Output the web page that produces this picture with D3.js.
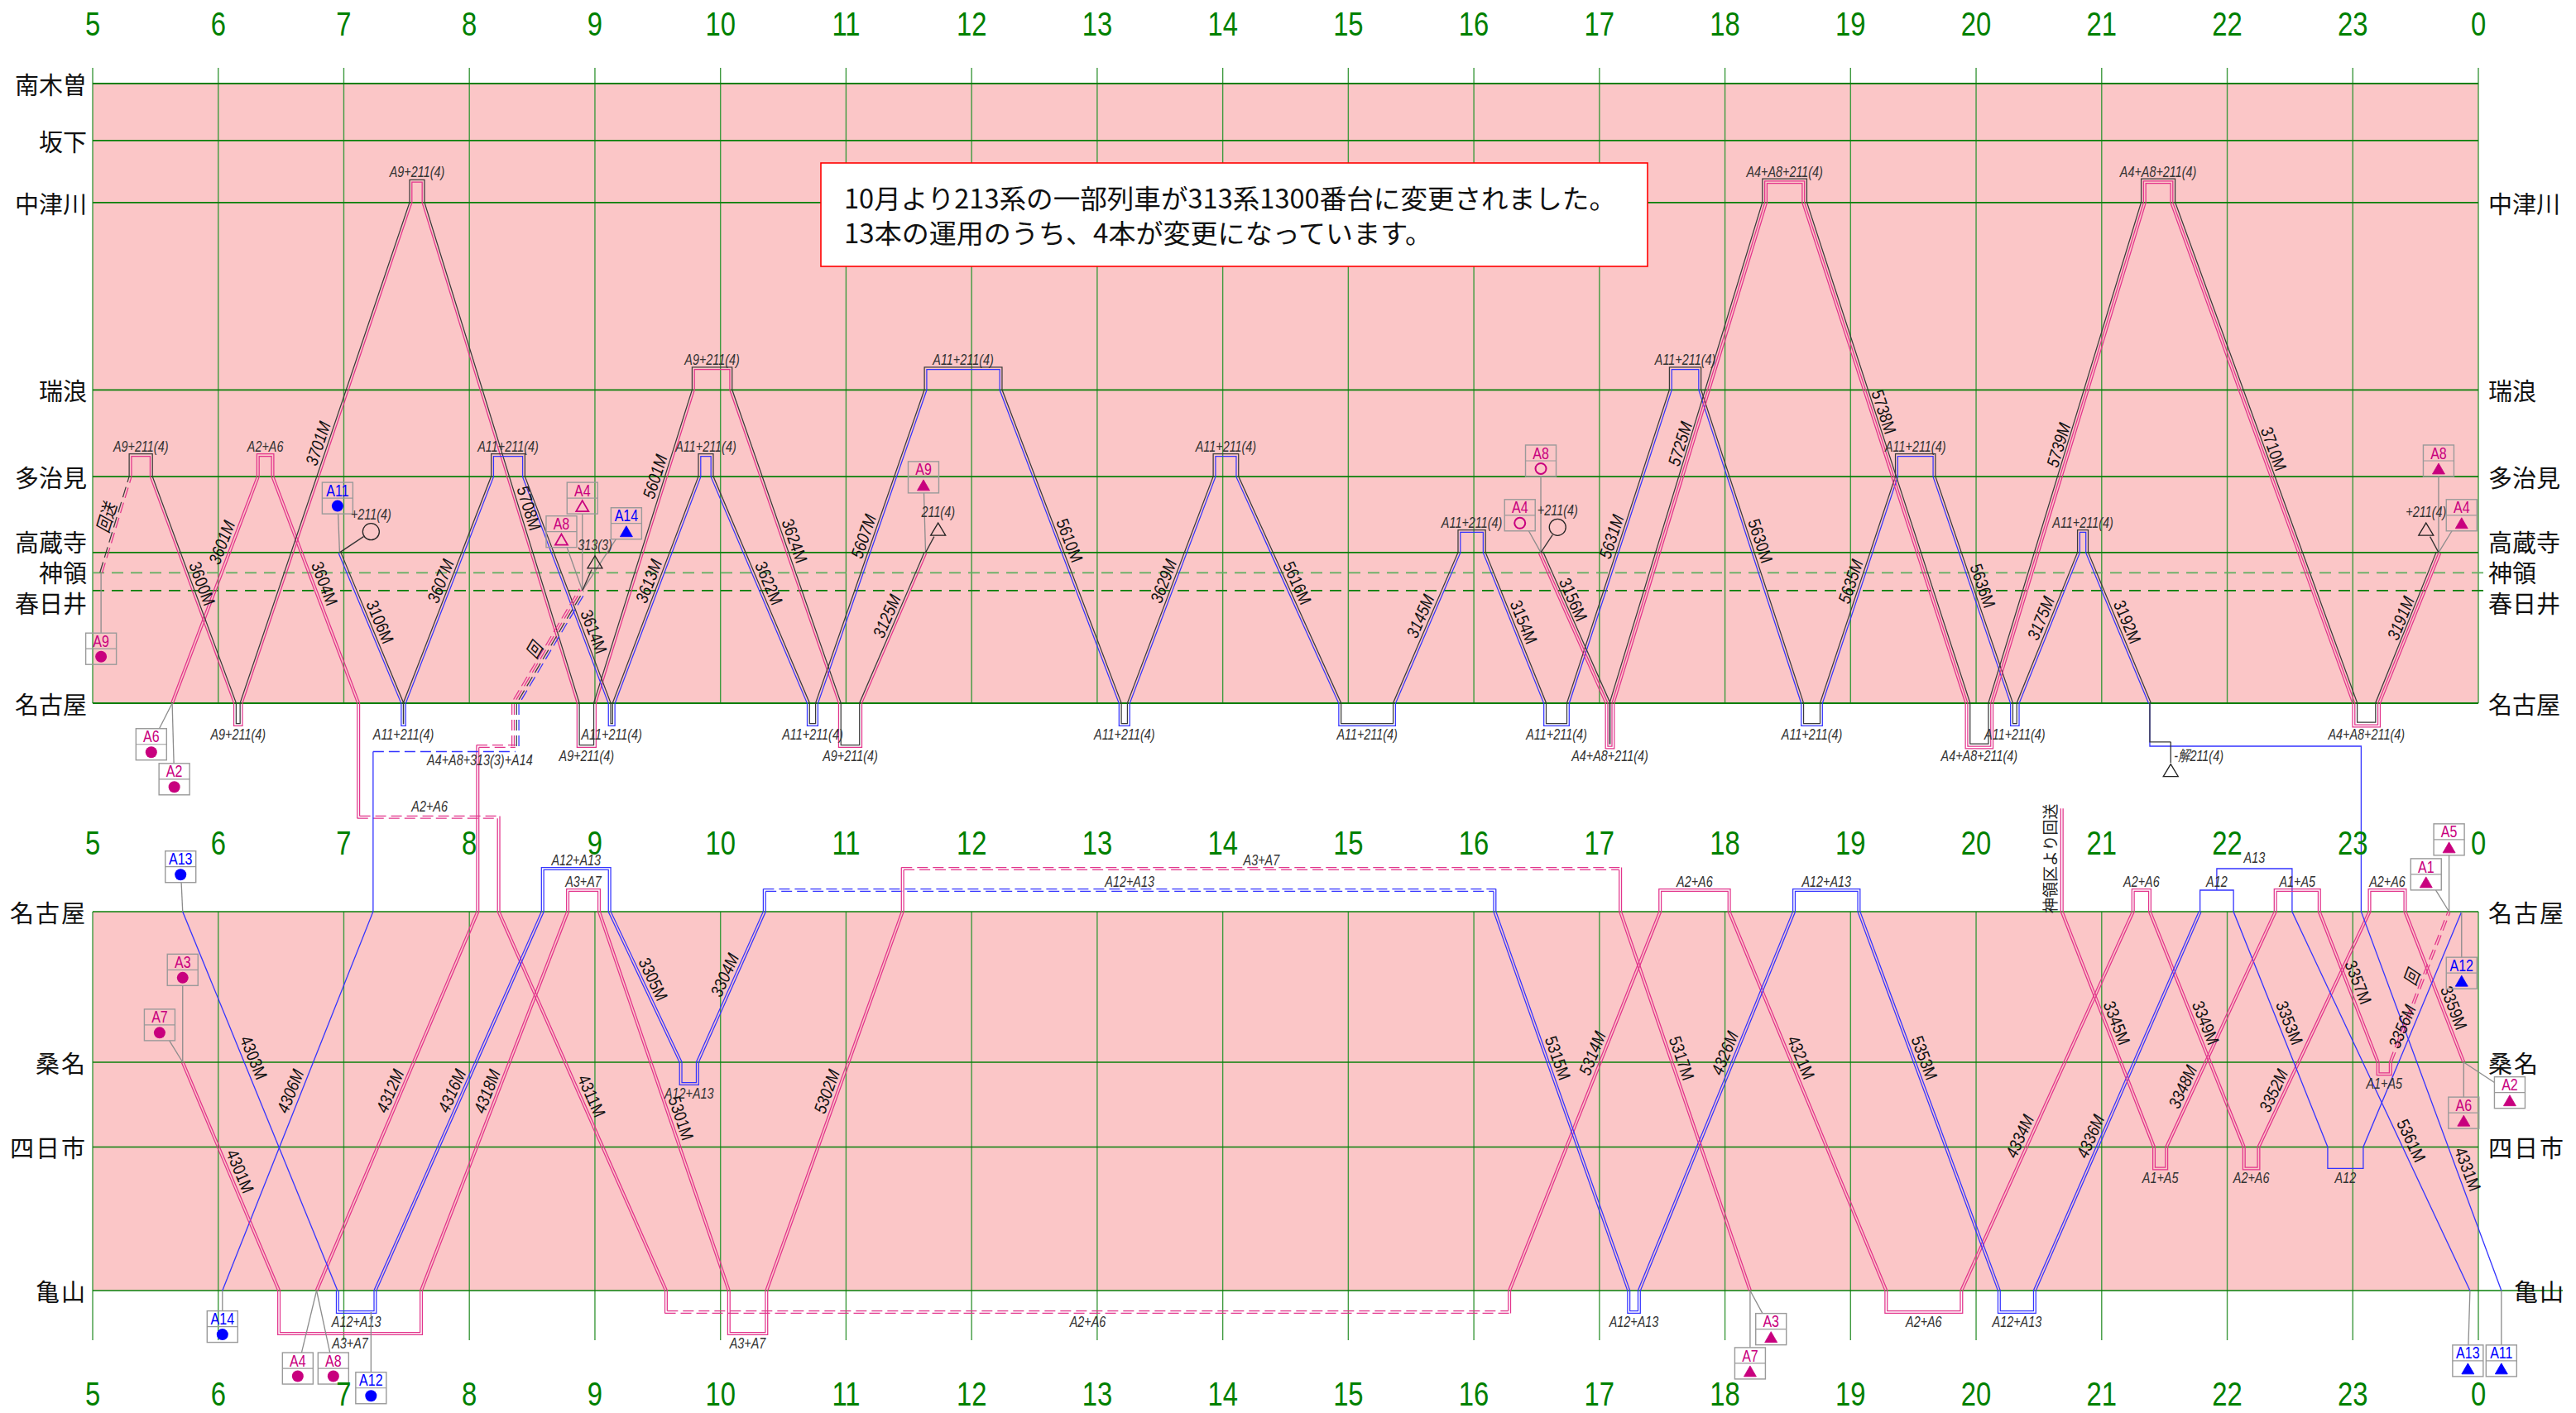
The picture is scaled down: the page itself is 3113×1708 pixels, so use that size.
<!DOCTYPE html>
<html><head><meta charset="utf-8">
<script src="https://cdn.jsdelivr.net/npm/d3@7"></script>
<style>body{margin:0;background:#fff}svg{display:block}</style>
</head><body>
<svg id="c" width="3113" height="1708"></svg>
<script>
// ===================== DATA =====================
const HOURS = [5,6,7,8,9,10,11,12,13,14,15,16,17,18,19,20,21,22,23,0];
const TOP_STATIONS = ["名古屋","春日井","神領","高蔵寺","多治見","瑞浪","中津川","坂下","南木曽"];
const TOP_KM       = [0, 17.8, 20.6, 23.8, 35.8, 49.5, 79.1, 88.9, 97.9];
const TOP_RIGHT    = ["名古屋","春日井","神領","高蔵寺","多治見","瑞浪","中津川"];
const TOP_DASHED   = ["神領","春日井"];
const BOT_STATIONS = ["名古屋","桑名","四日市","亀山"];
const BOT_KM       = [0, 23.8, 37.2, 59.9];
const NOTICE = ["10月より213系の一部列車が313系1300番台に変更されました。",
                "13本の運用のうち、4本が変更になっています。"];

// runs: s = panel+station, t = time, t2/d = turn-back (depth level), n = turn label, num = train no., ly = km where no. is written
const RUN_A9 = [
  {s:"T神領", t:"5:04"},
  {s:"T多治見", t:"5:18", t2:"5:28", d:1, n:"A9+211(4)", dash:true, num:"回送", ly:28.8},
  {s:"T名古屋", t:"6:08", t2:"6:11", d:1, n:"A9+211(4)", num:"3600M", ly:18.3},
  {s:"T中津川", t:"7:32", t2:"7:38", d:1, n:"A9+211(4)", num:"3701M", ly:40.5},
  {s:"T名古屋", t:"8:52", t2:"9:00", d:2, n:"A9+211(4)", num:"5708M", ly:30.3},
  {s:"T瑞浪", t:"9:47", t2:"10:05", d:1, n:"A9+211(4)", num:"5601M", ly:35.3},
  {s:"T名古屋", t:"10:57", t2:"11:07", d:2, n:"A9+211(4)", num:"3624M", ly:25.1},
  {s:"T高蔵寺", t:"11:38", num:"3125M", ly:13.1}
];
const RUN_A2A6 = [
  {s:"T名古屋", t:"5:38"},
  {s:"T多治見", t:"6:19", t2:"6:26", d:1, n:"A2+A6", num:"3601M", ly:24.8},
  {s:"T名古屋", t:"7:07", num:"3604M", ly:18.3},
  {s:"T名古屋", t:"7:07", o:5.3},
  {s:"T名古屋", t:"8:14", o:5.3, dash:true},
  {s:"B名古屋", t:"8:14"},
  {s:"B亀山", t:"9:34", t2:"16:17", d:1, n:"A2+A6", nd:true, num:"4311M", ly:29.8},
  {s:"B名古屋", t:"17:29", t2:"18:02", d:1, n:"A2+A6", num:"5314M", ly:23.0},
  {s:"B亀山", t:"19:17", t2:"19:53", d:1, n:"A2+A6", num:"4321M", ly:23.7},
  {s:"B名古屋", t:"21:15", t2:"21:23", d:1, n:"A2+A6", num:"4334M", ly:36.2},
  {s:"B四日市", t:"22:08", t2:"22:15", d:1, n:"A2+A6", num:"3349M", ly:18.2},
  {s:"B名古屋", t:"23:08", t2:"23:25", d:1, n:"A2+A6", num:"3352M", ly:29.0},
  {s:"B桑名", t:"23:53", num:"3359M", ly:15.8}
];
const RUN_A11 = [
  {s:"T高蔵寺", t:"6:58"},
  {s:"T名古屋", t:"7:28", t2:"7:29", d:1, n:"A11+211(4)", num:"3106M", ly:12.2},
  {s:"T多治見", t:"8:11", t2:"8:26", d:1, n:"A11+211(4)", num:"3607M", ly:18.7},
  {s:"T名古屋", t:"9:07", t2:"9:09", d:1, n:"A11+211(4)", num:"3614M", ly:10.7},
  {s:"T多治見", t:"9:50", t2:"9:56", d:1, n:"A11+211(4)", num:"3613M", ly:18.7},
  {s:"T名古屋", t:"10:42", t2:"10:46", d:1, n:"A11+211(4)", num:"3622M", ly:18.3},
  {s:"T瑞浪", t:"11:38", t2:"12:14", d:1, n:"A11+211(4)", num:"5607M", ly:25.8},
  {s:"T名古屋", t:"13:11", t2:"13:15", d:1, n:"A11+211(4)", num:"5610M", ly:25.1},
  {s:"T多治見", t:"13:56", t2:"14:07", d:1, n:"A11+211(4)", num:"3629M", ly:18.7},
  {s:"T名古屋", t:"14:56", t2:"15:22", d:1, n:"A11+211(4)", num:"5616M", ly:18.3},
  {s:"T高蔵寺", t:"15:53", t2:"16:05", d:1, n:"A11+211(4)", num:"3145M", ly:13.1},
  {s:"T名古屋", t:"16:34", t2:"16:45", d:1, n:"A11+211(4)", num:"3154M", ly:12.2},
  {s:"T瑞浪", t:"17:34", t2:"17:48", d:1, n:"A11+211(4)", num:"5631M", ly:25.8},
  {s:"T名古屋", t:"18:37", t2:"18:46", d:1, n:"A11+211(4)", num:"5630M", ly:25.1},
  {s:"T多治見", t:"19:22", t2:"19:40", d:1, n:"A11+211(4)", num:"5635M", ly:18.7},
  {s:"T名古屋", t:"20:17", t2:"20:20", d:1, n:"A11+211(4)", num:"5636M", ly:18.0},
  {s:"T高蔵寺", t:"20:49", t2:"20:53", d:1, n:"A11+211(4)", num:"3175M", ly:12.8},
  {s:"T名古屋", t:"21:23", num:"3192M", ly:12.2}
];
const RUN_A11_END = [
  {s:"T名古屋", t:"21:23"}, {s:"T名古屋", t:"21:23", o:2}, {s:"T名古屋", t:"23:04", o:2},
  {s:"B名古屋", t:"23:04"}, {s:"B亀山", t:"24:11", num:"4331M", ly:41.3}
];
const RUN_211_OFF = [
  {s:"T名古屋", t:"21:23"}, {s:"T名古屋", t:"21:23", o:1.8}, {s:"T名古屋", t:"21:33", o:1.8}
];
const RUN_A4A8_EVE = [
  {s:"T高蔵寺", t:"16:32"},
  {s:"T名古屋", t:"17:04", t2:"17:06", d:2, n:"A4+A8+211(4)", num:"3156M", ly:15.7},
  {s:"T中津川", t:"18:19", t2:"18:38", d:1, n:"A4+A8+211(4)", num:"5725M", ly:40.5},
  {s:"T名古屋", t:"19:56", t2:"20:07", d:2, n:"A4+A8+211(4)", num:"5738M", ly:45.5},
  {s:"T中津川", t:"21:20", t2:"21:34", d:1, n:"A4+A8+211(4)", num:"5739M", ly:40.3},
  {s:"T名古屋", t:"23:01", t2:"23:12", d:1, n:"A4+A8+211(4)", num:"3710M", ly:39.6},
  {s:"T高蔵寺", t:"23:41", num:"3191M", ly:12.8}
];
const RUN_A4A8_AM = [
  {s:"B亀山", t:"6:47"}, {s:"B名古屋", t:"8:04", num:"4312M", ly:29.0},
  {s:"T名古屋", t:"8:04", o:2}, {s:"T名古屋", t:"8:22", o:2, dash:true}
];
const RUN_A14 = [
  {s:"B亀山", t:"6:02"}, {s:"B名古屋", t:"7:14", num:"4306M", ly:29.0},
  {s:"T名古屋", t:"7:14", o:2.25}, {s:"T名古屋", t:"8:22", o:2.25, dash:true}
];
const RUN_DEPOT_AM = [
  {s:"T名古屋", t:"8:22", o:2}, {s:"T名古屋", t:"8:22", dash:true},
  {s:"T春日井", t:"8:54", dash:true, num:"回", ly:7.5}
];
const RUN_A13_AM = [ {s:"B名古屋", t:"5:43"}, {s:"B亀山", t:"6:57", num:"4303M", ly:23.7} ];
const RUN_A12A13 = [
  {s:"B亀山", t:"6:57", t2:"7:15", d:1, n:"A12+A13"},
  {s:"B名古屋", t:"8:35", t2:"9:07", d:2, n:"A12+A13", num:"4316M", ly:29.0},
  {s:"B桑名", t:"9:41", t2:"9:49", d:1, n:"A12+A13", num:"3305M", ly:11.4},
  {s:"B名古屋", t:"10:21", t2:"16:10", d:1, n:"A12+A13", nd:true, num:"3304M", ly:10.7},
  {s:"B亀山", t:"17:14", t2:"17:19", d:1, n:"A12+A13", num:"5315M", ly:23.7},
  {s:"B名古屋", t:"18:33", t2:"19:04", d:1, n:"A12+A13", num:"4326M", ly:23.0},
  {s:"B亀山", t:"20:11", t2:"20:28", d:1, n:"A12+A13", num:"5353M", ly:23.7},
  {s:"B名古屋", t:"21:47", num:"4336M", ly:36.2}
];
const RUN_A12_PM = [
  {s:"B名古屋", t:"21:47", t2:"22:03", d:1, n:"A12"},
  {s:"B四日市", t:"22:48", t2:"23:05", d:1, n:"A12", num:"3353M", ly:18.2},
  {s:"B名古屋", t:"23:52", num:"3356M", ly:18.8}
];
const RUN_A13_PM = [
  {s:"B名古屋", t:"21:55", o:1}, {s:"B名古屋", t:"21:55", o:2}, {s:"B名古屋", t:"22:31", o:2},
  {s:"B名古屋", t:"22:31"}, {s:"B亀山", t:"23:56", num:"5361M", ly:36.9}
];
const RUN_A3A7 = [
  {s:"B桑名", t:"5:43"},
  {s:"B亀山", t:"6:29", t2:"7:37", d:2, n:"A3+A7", num:"4301M", ly:41.7},
  {s:"B名古屋", t:"8:47", t2:"9:02", d:1, n:"A3+A7", num:"4318M", ly:29.0},
  {s:"B亀山", t:"10:04", t2:"10:22", d:2, n:"A3+A7", num:"5301M", ly:33.2},
  {s:"B名古屋", t:"11:27", t2:"17:10", d:2, n:"A3+A7", nd:true, num:"5302M", ly:29.0},
  {s:"B亀山", t:"18:12", num:"5317M", ly:23.7}
];
const RUN_A1A5 = [
  {s:"B名古屋", t:"20:41", o:4.8}, {s:"B名古屋", t:"20:41"},
  {s:"B四日市", t:"21:25", t2:"21:31", d:1, n:"A1+A5", num:"3345M", ly:18.2},
  {s:"B名古屋", t:"22:23", t2:"22:44", d:1, n:"A1+A5", num:"3348M", ly:28.4},
  {s:"B桑名", t:"23:12", t2:"23:18", d:0.55, n:"A1+A5", num:"3357M", ly:11.8},
  {s:"B名古屋", t:"23:46", dash:true, num:"回", ly:11.0}
];
// unit composition of each run (m = 313 pink, b = 313 blue, k = 211 black)
const RUNS = [
  {u:"mm", steps:RUN_A2A6}, {u:"km", steps:RUN_A9}, {u:"kb", steps:RUN_A11},
  {u:"b", steps:RUN_A11_END}, {u:"k", steps:RUN_211_OFF}, {u:"kmm", steps:RUN_A4A8_EVE},
  {u:"mm", steps:RUN_A4A8_AM}, {u:"b", steps:RUN_A14}, {u:"mmkb", steps:RUN_DEPOT_AM},
  {u:"b", steps:RUN_A13_AM}, {u:"bb", steps:RUN_A12A13}, {u:"b", steps:RUN_A12_PM},
  {u:"b", steps:RUN_A13_PM}, {u:"mm", steps:RUN_A3A7}, {u:"mm", steps:RUN_A1A5}
];
// unit boxes (start ● / end ▲ △ / join ○)
const BOXES = [
  {id:"A9", c:"m", sym:"dot", p:"T", t:"5:04", km:8.6, to:{s:"T神領", t:"5:04"}},
  {id:"A6", c:"m", sym:"dot", p:"T", t:"5:28", km:-6.5, to:{s:"T名古屋", t:"5:38"}},
  {id:"A2", c:"m", sym:"dot", p:"T", t:"5:39", km:-12.0, to:{s:"T名古屋", t:"5:38"}},
  {id:"A11", c:"b", sym:"dot", p:"T", t:"6:57", km:32.4, to:{s:"T高蔵寺", t:"6:58"}},
  {id:"A8", c:"m", sym:"otri", p:"T", t:"8:44", km:27.1, to:{s:"T春日井", t:"8:54"}},
  {id:"A4", c:"m", sym:"otri", p:"T", t:"8:54", km:32.4, to:{s:"T春日井", t:"8:54"}},
  {id:"A14", c:"b", sym:"tri", p:"T", t:"9:15", km:28.4, to:{s:"T春日井", t:"8:54"}},
  {id:"A9", c:"m", sym:"tri", p:"T", t:"11:37", km:35.7, to:{s:"T高蔵寺", t:"11:38"}},
  {id:"A8", c:"m", sym:"ocirc", p:"T", t:"16:32", km:38.3, to:{s:"T高蔵寺", t:"16:32"}},
  {id:"A4", c:"m", sym:"ocirc", p:"T", t:"16:22", km:29.7, to:{s:"T高蔵寺", t:"16:32"}},
  {id:"A8", c:"m", sym:"tri", p:"T", t:"23:41", km:38.3, to:{s:"T高蔵寺", t:"23:41"}},
  {id:"A4", c:"m", sym:"tri", p:"T", t:"23:52", km:29.7, to:{s:"T高蔵寺", t:"23:41"}},
  {id:"A13", c:"b", sym:"dot", p:"B", t:"5:42", km:-7.1, to:{s:"B名古屋", t:"5:43"}},
  {id:"A3", c:"m", sym:"dot", p:"B", t:"5:43", km:9.2, to:{s:"B桑名", t:"5:43"}},
  {id:"A7", c:"m", sym:"dot", p:"B", t:"5:32", km:17.9, to:{s:"B桑名", t:"5:43"}},
  {id:"A14", c:"b", sym:"dot", p:"B", t:"6:02", km:65.6, to:{s:"B亀山", t:"6:02"}},
  {id:"A4", c:"m", sym:"dot", p:"B", t:"6:38", km:72.2, to:{s:"B亀山", t:"6:47"}},
  {id:"A8", c:"m", sym:"dot", p:"B", t:"6:55", km:72.2, to:{s:"B亀山", t:"6:47"}},
  {id:"A12", c:"b", sym:"dot", p:"B", t:"7:13", km:75.3, to:{s:"B亀山", t:"7:13", o:1}},
  {id:"A3", c:"m", sym:"tri", p:"B", t:"18:22", km:66.0, to:{s:"B亀山", t:"18:12"}},
  {id:"A7", c:"m", sym:"tri", p:"B", t:"18:12", km:71.4, to:{s:"B亀山", t:"18:12"}},
  {id:"A13", c:"b", sym:"tri", p:"B", t:"23:55", km:71.0, to:{s:"B亀山", t:"23:56"}},
  {id:"A11", c:"b", sym:"tri", p:"B", t:"24:11", km:71.0, to:{s:"B亀山", t:"24:11"}},
  {id:"A12", c:"b", sym:"tri", p:"B", t:"23:52", km:9.7, to:{s:"B名古屋", t:"23:52"}},
  {id:"A2", c:"m", sym:"tri", p:"B", t:"24:15", km:28.6, to:{s:"B桑名", t:"23:53"}},
  {id:"A6", c:"m", sym:"tri", p:"B", t:"23:53", km:31.8, to:{s:"B桑名", t:"23:53"}},
  {id:"A1", c:"m", sym:"tri", p:"B", t:"23:35", km:-5.9, to:{s:"B名古屋", t:"23:46"}},
  {id:"A5", c:"m", sym:"tri", p:"B", t:"23:46", km:-11.4, to:{s:"B名古屋", t:"23:46"}}
];
// 211 series attach / detach marks
const MARKS = [
  {sym:"ocirc", p:"T", t:"7:13", km:27.1, text:"+211(4)", to:{s:"T高蔵寺", t:"6:58"}},
  {sym:"otri", p:"T", t:"9:00", km:22.3, text:"313(3)", to:{s:"T春日井", t:"8:54"}},
  {sym:"otri", p:"T", t:"11:44", km:27.5, text:"211(4)", to:{s:"T高蔵寺", t:"11:38"}},
  {sym:"ocirc", p:"T", t:"16:40", km:27.8, text:"+211(4)", to:{s:"T高蔵寺", t:"16:32"}},
  {sym:"otri", p:"T", t:"23:35", km:27.5, text:"+211(4)", to:{s:"T高蔵寺", t:"23:41"}},
  {sym:"otri", p:"T", t:"21:33", km:-10.6, text:"-解211(4)", side:"right", to:{s:"T名古屋", t:"21:33", o:1.8}}
];
const FREE_TEXT = [
  {p:"T", t:"8:05", km:-8.9, text:"A4+A8+313(3)+A14"},
  {p:"T", t:"7:41", km:-16.2, text:"A2+A6"},
  {p:"B", t:"22:13", km:-8.6, text:"A13"}
];
const VERT_TEXT = [{p:"B", t:"20:35", km:-8.4, text:"神領区より回送"}];

// ===================== DRAWING =====================
const svg = d3.select("#c");
const cv = document.createElement("canvas").getContext("2d");
function fontOK(f){ const s="A9+211(4) 3600M"; cv.font="40px monospace"; const w0=cv.measureText(s).width; cv.font=`40px "${f}", monospace`; return Math.abs(cv.measureText(s).width-w0)>1; }
const HAS_NARROW = fontOK("Liberation Sans Narrow");
const NF = HAS_NARROW ? '"Liberation Sans Narrow","Noto Sans CJK JP",sans-serif' : '"Liberation Sans","Noto Sans CJK JP",sans-serif';
const SX = HAS_NARROW ? 1 : 0.8;
const WF = '"Liberation Sans","Noto Sans CJK JP",sans-serif';
const JF = '"Noto Sans CJK JP","Noto Sans",sans-serif';

const COL = {m:"#e2358c", b:"#3434ff", k:"#3a3a3a"};
const BOXCOL = {m:"#c8007e", b:"#0000ff"};
const PINK = "#fbc6c7", GH = "#0a7f0a", GV = "#3f9a3f";

const tp = s => { const [h,m] = s.split(":").map(Number); return h + m/60; };
const x = d3.scaleLinear().domain([5,24]).range([112,2995]);
const yT = d3.scaleLinear().domain([0,97.9]).range([850,101]);
const yB = d3.scaleLinear().domain([0,59.9]).range([1102,1560]);
const LV = 26, SP = 2.8;
const ys = p => p==="T" ? yT : yB;
const kmOf = key => key[0]==="T" ? TOP_KM[TOP_STATIONS.indexOf(key.slice(1))] : BOT_KM[BOT_STATIONS.indexOf(key.slice(1))];
const outDir = key => { const n = key.slice(1); return key[0]==="T" ? (n==="名古屋"?1:-1) : (n==="名古屋"?-1:1); };
const yOf = (key,o=0) => ys(key[0])(kmOf(key)) + outDir(key)*o*LV;
const P = (key,t,o=0) => ({x:x(tp(t)), y:yOf(key,o)});

function T(g, px, py, s, o={}){
  const sx = o.sx!==undefined ? o.sx : SX;
  const el = g.append("text")
    .attr("transform", `translate(${px},${py}) rotate(${o.rot||0}) scale(${sx},1)`)
    .attr("text-anchor", o.anchor||"middle").attr("dominant-baseline", o.base||"central")
    .style("font-family", o.ff||NF).style("font-size", (o.size||18)+"px")
    .attr("fill", o.fill||"#222").text(s);
  if (o.italic) el.style("font-style","italic");
  return el;
}
// spread label positions so station names never overlap
function spread(ys0, gap){
  const items = ys0.map((y,i)=>({i,y0:y,y})).sort((a,b)=>a.y0-b.y0);
  let groups = items.map(it=>({m:[it], c:it.y0}));
  let changed = true;
  while (changed){
    changed = false;
    for (let k=0;k<groups.length-1;k++){
      const a=groups[k], b=groups[k+1];
      const aEnd = a.c + (a.m.length-1)*gap/2, bStart = b.c - (b.m.length-1)*gap/2;
      if (bStart - aEnd < gap - 0.01){
        const m = a.m.concat(b.m);
        const c = d3.mean(m, d=>d.y0);
        groups.splice(k,2,{m,c}); changed = true; break;
      }
    }
  }
  const out = [];
  groups.forEach(g=> g.m.forEach((it,j)=> out[it.i] = g.c + (j-(g.m.length-1)/2)*gap));
  return out;
}

// panels
const gBg = svg.append("g");
gBg.append("rect").attr("x",x(5)).attr("y",yT(97.9)).attr("width",x(24)-x(5)).attr("height",yT(0)-yT(97.9)).attr("fill",PINK);
gBg.append("rect").attr("x",x(5)).attr("y",yB(0)).attr("width",x(24)-x(5)).attr("height",yB(59.9)-yB(0)).attr("fill",PINK);

HOURS.forEach((h,i)=>{
  const X = x(5+i);
  gBg.append("line").attr("x1",X).attr("x2",X).attr("y1",82).attr("y2",yT(0)).attr("stroke",GV).attr("stroke-width",1.4);
  gBg.append("line").attr("x1",X).attr("x2",X).attr("y1",yB(0)).attr("y2",1620).attr("stroke",GV).attr("stroke-width",1.4);
});
TOP_STATIONS.forEach((s,i)=>{
  const Y = yT(TOP_KM[i]); const dashed = TOP_DASHED.includes(s);
  gBg.append("line").attr("x1",x(5)).attr("x2", dashed? 3008 : x(24)).attr("y1",Y).attr("y2",Y)
    .attr("stroke", s==="神領" ? "#5fae5f" : GH).attr("stroke-width",1.8).attr("stroke-dasharray", dashed? "14,9" : null);
});
BOT_STATIONS.forEach((s,i)=>{
  const Y = yB(BOT_KM[i]);
  gBg.append("line").attr("x1",x(5)).attr("x2", s==="亀山"? 3097 : x(24)).attr("y1",Y).attr("y2",Y).attr("stroke",GH).attr("stroke-width",1.6);
});

gBg.append("rect").attr("x",992).attr("y",197).attr("width",999).attr("height",125).attr("fill","#fff").attr("stroke","#ff0000").attr("stroke-width",1.6);
T(gBg, 1020, 252, NOTICE[0], {anchor:"start", base:"alphabetic", ff:JF, size:32, sx:1, fill:"#111"}).attr("textLength",933).attr("lengthAdjust","spacingAndGlyphs");
T(gBg, 1020, 294, NOTICE[1], {anchor:"start", base:"alphabetic", ff:JF, size:32, sx:1, fill:"#111"}).attr("textLength",711).attr("lengthAdjust","spacingAndGlyphs");

// ---- runs
function expand(steps){
  const pts=[], segL=[], notchL=[];
  steps.forEach(st=>{
    const a = P(st.s, st.t, st.o||0); a.dash = !!st.dash;
    const prev = pts[pts.length-1];
    if (st.num && prev) segL.push({p0:prev, p1:a, num:st.num, ly:st.ly, panel:st.s[0]});
    pts.push(a);
    if (st.t2){
      const b = P(st.s, st.t, st.d); b.dash=false;
      const c = P(st.s, st.t2, st.d); c.dash=!!st.nd;
      const e = P(st.s, st.t2, 0); e.dash=false;
      pts.push(b,c,e);
      if (st.n) notchL.push({x:(a.x+e.x)/2, y:yOf(st.s, st.d)+outDir(st.s)*11, text:st.n});
    }
  });
  const out=[];
  pts.forEach(p=>{ const q=out[out.length-1]; if (q && Math.abs(q.x-p.x)<0.01 && Math.abs(q.y-p.y)<0.01) return; out.push(p); });
  return {pts:out, segL, notchL};
}
function offsetPoly(pts, off){
  const n=pts.length, nm=[];
  for (let i=0;i<n-1;i++){ const dx=pts[i+1].x-pts[i].x, dy=pts[i+1].y-pts[i].y, L=Math.hypot(dx,dy)||1; nm.push([dy/L,-dx/L]); }
  return pts.map((p,i)=>{
    let nx,ny;
    if (i===0) [nx,ny]=nm[0]; else if (i===n-1) [nx,ny]=nm[n-2];
    else { const a=nm[i-1], b=nm[i]; let mx=a[0]+b[0], my=a[1]+b[1]; const ml=Math.hypot(mx,my);
      if (ml<1e-6){ nx=b[0]; ny=b[1]; } else { mx/=ml; my/=ml; const k=1/Math.max(mx*b[0]+my*b[1],0.3); nx=mx*k; ny=my*k; } }
    return {x:p.x+nx*off, y:p.y+ny*off};
  });
}
const gRuns = svg.append("g").attr("fill","none");
const gLab = svg.append("g");
const line = d3.line().x(d=>d.x).y(d=>d.y);
RUNS.forEach(run=>{
  const {pts, segL, notchL} = expand(run.steps);
  const n = run.u.length;
  [...run.u].forEach((c,i)=>{
    const off = ((n-1)/2 - i)*SP;
    const op = off===0 ? pts : offsetPoly(pts, off);
    const groups=[]; let cur=null;
    for (let j=1;j<pts.length;j++){
      const f = pts[j].dash;
      if (!cur || cur.f!==f){ cur={f, p:[op[j-1]]}; groups.push(cur); }
      cur.p.push(op[j]);
    }
    groups.forEach(g=>{
      gRuns.append("path").attr("d", line(g.p)).attr("stroke", COL[c]).attr("stroke-width", n===1?1.3:1.25)
        .attr("stroke-dasharray", g.f ? "13,6" : null).attr("stroke-linejoin","miter");
    });
  });
  notchL.forEach(l=> T(gLab, l.x, l.y, l.text, {size:18, italic:true, fill:"#333"}));
  segL.forEach(l=>{
    const yT0 = ys(l.panel)(l.ly);
    const {p0,p1} = l; if (Math.abs(p1.y-p0.y)<0.01) return;
    const f = (yT0-p0.y)/(p1.y-p0.y);
    const px = p0.x + f*(p1.x-p0.x), py = yT0;
    const dx=p1.x-p0.x, dy=p1.y-p0.y, L=Math.hypot(dx,dy);
    const nx=dy/L, ny=-dx/L;
    const ang = Math.atan2(dy,dx)*180/Math.PI;
    T(gLab, px+nx*13, py+ny*13, l.num, {size:21, sx:0.85, ff:WF, rot:ang, italic: dy<0, fill:"#111"});
  });
});

// ---- boxes
const gBox = svg.append("g");
function clipRect(cx,cy,w,h,tx,ty){ const dx=tx-cx, dy=ty-cy; const s=Math.min(dx?(w/2)/Math.abs(dx):Infinity, dy?(h/2)/Math.abs(dy):Infinity); return s>=1?null:{x:cx+dx*s,y:cy+dy*s}; }
function symbol(g, sym, cx, cy, col, big){
  const r = big?10:7;
  if (sym==="dot") g.append("circle").attr("cx",cx).attr("cy",cy).attr("r",r).attr("fill",col);
  if (sym==="ocirc") g.append("circle").attr("cx",cx).attr("cy",cy).attr("r",big?10:6.5).attr("fill","none").attr("stroke",col).attr("stroke-width",big?1.3:2);
  if (sym==="tri"||sym==="otri"){ const w=big?9:7.5, h=big?15:13;
    g.append("path").attr("d",`M${cx},${cy-h/2}L${cx+w},${cy+h/2}L${cx-w},${cy+h/2}Z`)
     .attr("fill", sym==="tri"?col:"none").attr("stroke",col).attr("stroke-width", sym==="tri"?0.8:(big?1.3:1.8)); }
}
BOXES.forEach(b=>{
  const cx = x(tp(b.t)), cy = ys(b.p)(b.km), w=37, h=38;
  const tg = P(b.to.s, b.to.t, b.to.o||0);
  const st = clipRect(cx,cy,w,h,tg.x,tg.y);
  if (st) gBox.append("line").attr("x1",st.x).attr("y1",st.y).attr("x2",tg.x).attr("y2",tg.y).attr("stroke","#8c8c8c").attr("stroke-width",1.3);
  gBox.append("rect").attr("x",cx-w/2).attr("y",cy-h/2).attr("width",w).attr("height",h).attr("fill","none").attr("stroke","#9a9a9a").attr("stroke-width",1.4);
  gBox.append("line").attr("x1",cx-w/2).attr("x2",cx+w/2).attr("y1",cy).attr("y2",cy).attr("stroke","#9a9a9a").attr("stroke-width",1.2);
  T(gBox, cx, cy-9, b.id, {size:20, fill:BOXCOL[b.c]});
  symbol(gBox, b.sym, cx, cy+9.5, BOXCOL[b.c], false);
});
MARKS.forEach(m=>{
  const cx = x(tp(m.t)), cy = ys(m.p)(m.km);
  const tg = P(m.to.s, m.to.t, m.to.o||0);
  const st = clipRect(cx,cy,18,18,tg.x,tg.y) || {x:cx,y:cy};
  gBox.append("line").attr("x1",st.x).attr("y1",st.y).attr("x2",tg.x).attr("y2",tg.y).attr("stroke","#333").attr("stroke-width",1.3);
  symbol(gBox, m.sym, cx, cy, "#222", true);
  if (m.side==="right") T(gBox, cx+4, cy-18, m.text, {size:18, italic:true, anchor:"start", fill:"#333"});
  else T(gBox, cx, cy-21, m.text, {size:18, italic:true, fill:"#333"});
});
FREE_TEXT.forEach(f=> T(gLab, x(tp(f.t)), ys(f.p)(f.km), f.text, {size:18, italic:true, fill:"#333"}));
VERT_TEXT.forEach(f=> T(gLab, x(tp(f.t)), ys(f.p)(f.km), f.text, {size:19, rot:-90, ff:JF, sx:1, fill:"#222"}));

// ---- axis text
const gAx = svg.append("g");
[43, 1033, 1699].forEach(yb=>{
  HOURS.forEach((h,i)=> T(gAx, x(5+i), yb, String(h), {size:41, base:"alphabetic", fill:"#008000"}));
});
const topLabY = spread(TOP_KM.map(k=>yT(k)), 37);
TOP_STATIONS.forEach((s,i)=> T(gAx, 105, topLabY[i], s, {size:29, anchor:"end", ff:JF, sx:1, fill:"#111"}));
TOP_RIGHT.forEach(s=>{ const i = TOP_STATIONS.indexOf(s); T(gAx, 3007, topLabY[i], s, {size:29, anchor:"start", ff:JF, sx:1, fill:"#111"}); });
BOT_STATIONS.forEach((s,i)=>{
  T(gAx, 105, yB(BOT_KM[i]), s, {size:29, anchor:"end", ff:JF, sx:1, fill:"#111"}).style("letter-spacing","2px");
  T(gAx, s==="亀山"?3038:3007, yB(BOT_KM[i]), s, {size:29, anchor:"start", ff:JF, sx:1, fill:"#111"}).style("letter-spacing","2px");
});
</script>
</body></html>
